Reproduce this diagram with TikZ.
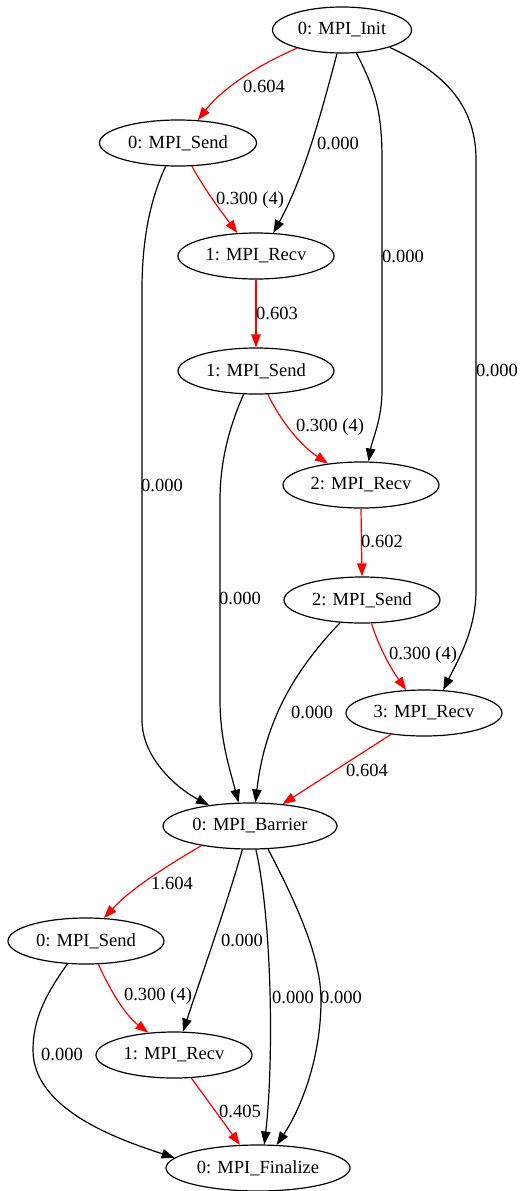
\documentclass[tikz,border=0pt]{standalone}
\usepackage{fontspec}
\setmainfont{Liberation Serif}
\usetikzlibrary{arrows.meta,shapes.geometric}
\begin{document}
\begin{tikzpicture}[x=1pt,y=-1pt,
  every node/.style={font=\fontsize{18.5}{22}\selectfont},
  ev/.style={ellipse,draw,line width=1.2pt,inner sep=0pt,minimum height=46pt},
  lbl/.style={inner sep=0pt},
  edge/.style={line width=1.2pt,-{Triangle[length=13pt,width=9.5pt]}},
  crit/.style={edge,red}]
\useasboundingbox (0,0) rectangle (522,1191);
% events
\node[ev,minimum width=139pt] (init)  at (342,30)  {0: MPI\_Init};
\node[ev,minimum width=157pt] (sendA) at (178,143) {0: MPI\_Send};
\node[ev,minimum width=156pt] (recvA) at (256,256) {1: MPI\_Recv};
\node[ev,minimum width=156pt] (sendB) at (256,371) {1: MPI\_Send};
\node[ev,minimum width=156pt] (recvB) at (361,485) {2: MPI\_Recv};
\node[ev,minimum width=156pt] (sendC) at (362,600) {2: MPI\_Send};
\node[ev,minimum width=156pt] (recvC) at (424,713) {3: MPI\_Recv};
\node[ev,minimum width=174pt] (barr)  at (250,826) {0: MPI\_Barrier};
\node[ev,minimum width=156pt] (sendD) at (86,941)  {0: MPI\_Send};
\node[ev,minimum width=156pt] (recvD) at (174,1055) {1: MPI\_Recv};
\node[ev,minimum width=184pt] (fin)   at (258,1168) {0: MPI\_Finalize};

% upper phase
\draw[crit] (init.-158) .. controls (265,62) and (225,85) .. (sendA.49);
\draw[edge] (init.-102) .. controls (322,110) and (305,175) .. (recvA.53.5);
\draw[edge] (init.-58.7) .. controls (375,90) and (382,110) .. (382,160) -- (382,390)
  .. controls (382,420) and (372,440) .. (recvB.72);
\draw[edge] (init.-20.6) .. controls (450,75) and (476,110) .. (476,160) -- (476,590)
  .. controls (476,630) and (458,660) .. (recvC.50.4);
\draw[crit] (sendA.-59.7) .. controls (205,190) and (220,210) .. (recvA.129.6);
\draw[edge] (sendA.-118.4) .. controls (150,200) and (142,240) .. (142,290) -- (142,720)
  .. controls (142,760) and (180,790) .. (barr.153.4);
\draw[crit] (recvA.south) -- (sendB.north);
\draw[edge] (sendB.-118.4) .. controls (230,425) and (220,460) .. (220,500) -- (220,700)
  .. controls (220,740) and (230,770) .. (barr.116.6);
\draw[crit] (sendB.-63.4) .. controls (280,420) and (300,445) .. (recvB.147);
\draw[crit] (recvB.south) -- (sendC.north);
\draw[edge] (sendC.-134.4) .. controls (295,670) and (265,720) .. (barr.77.7);
\draw[crit] (sendC.-68.6) .. controls (380,650) and (392,670) .. (recvC.128);
\draw[crit] (recvC.-147) -- (barr.34.9);

% lower phase
\draw[crit] (barr.-158.2) .. controls (160,870) and (130,890) .. (sendD.52);
\draw[edge] (barr.-108.4) .. controls (225,910) and (200,980) .. (recvD.69.4);
\draw[edge] (barr.-76) .. controls (272,920) and (274,1060) .. (fin.75.4);
\draw[edge] (barr.-52) .. controls (300,910) and (321,960) .. (321,1000)
  .. controls (321,1060) and (300,1110) .. (fin.51.6);
\draw[edge] (sendD.-129.6) .. controls (45,995) and (33,1020) .. (33,1050)
  .. controls (33,1110) and (120,1140) .. (fin.173);
\draw[crit] (sendD.-62.4) .. controls (110,990) and (125,1015) .. (recvD.139.6);
\draw[crit] (recvD.-53.5) -- (fin.128);

% edge weights
\node[lbl] (w1)  at (264,86)   {0.604};
\node[lbl] (w2)  at (338,143)  {0.000};
\node[lbl] (w3)  at (403,256)  {0.000};
\node[lbl] (w4)  at (497,370)  {0.000};
\node[lbl] (w5)  at (250,200)  {0.300 (4)};
\node[lbl] (w6)  at (162,485)  {0.000};
\node[lbl] (w7)  at (277,313)  {0.603};
\node[lbl] (w8)  at (240,598)  {0.000};
\node[lbl] (w9)  at (330,427)  {0.300 (4)};
\node[lbl] (w10) at (382,541)  {0.602};
\node[lbl] (w11) at (312,712)  {0.000};
\node[lbl] (w12) at (423,655)  {0.300 (4)};
\node[lbl] (w13) at (367,770)  {0.604};
\node[lbl] (w14) at (172,883)  {1.604};
\node[lbl] (w15) at (242,940)  {0.000};
\node[lbl] (w16) at (293,997)  {0.000};
\node[lbl] (w17) at (341,997)  {0.000};
\node[lbl] (w18) at (62,1054)  {0.000};
\node[lbl] (w19) at (158,996)  {0.300 (4)};
\node[lbl] (w20) at (240,1111) {0.405};
\end{tikzpicture}
\end{document}
